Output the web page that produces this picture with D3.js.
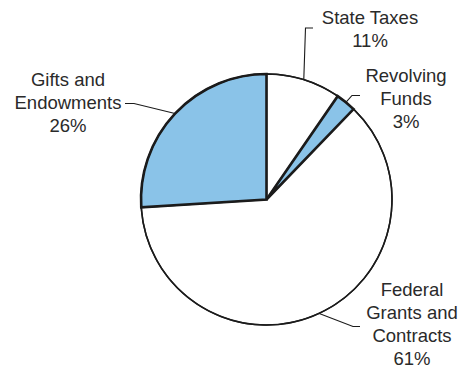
<!DOCTYPE html>
<html>
<head>
<meta charset="utf-8">
<script src="https://cdn.jsdelivr.net/npm/d3@7"></script>
<style>
  html, body { margin: 0; padding: 0; background: #ffffff; }
  svg { display: block; }
</style>
</head>
<body>
<script>
// ---- data ----
const categories = ["State Taxes", "Revolving Funds", "Federal Grants and Contracts", "Gifts and Endowments"];
const shares = [9.6, 2.6, 61.8, 26.0];          // slice sizes as drawn
const percentLabels = ["11%", "3%", "61%", "26%"]; // printed labels
const labelLines = [["State Taxes"], ["Revolving", "Funds"], ["Federal", "Grants and", "Contracts"], ["Gifts and", "Endowments"]];
const highlighted = [false, true, false, true];

// ---- layout ----
const W = 466, H = 369;
const cx = 266.5, cy = 199.5, R = 125.5;
const blue = "#8AC3E8";
const ink = "#1b1b1b";
const textColor = "#2a2a2a";

// label layout: text anchor centre x, first baseline, and leader elbow/end points
const labelLayout = [
  { x: 370, y: 24,  elbow: [305.5, 28], end: [313, 28] },
  { x: 406, y: 81.5, elbow: [352, 95.5], end: [360, 95.5] },
  { x: 412, y: 295.5, elbow: [353, 326.5], end: [360, 326.5] },
  { x: 68,  y: 86,  elbow: [134, 103.5], end: [125, 103.5] }
];
const lineH = 23;

const svg = d3.select("body").append("svg")
  .attr("width", W).attr("height", H);

const data = categories.map((c, i) => ({ name: c, value: shares[i], pct: percentLabels[i], lines: labelLines[i], hi: highlighted[i], layout: labelLayout[i] }));

const pie = d3.pie().sort(null).value(d => d.value);
const arcs = pie(data);
const arc = d3.arc().innerRadius(0).outerRadius(R);

const g = svg.append("g").attr("transform", `translate(${cx},${cy})`);

// white slices first, then blue slices on top (thicker outline)
const order = arcs.slice().sort((a, b) => (a.data.hi === b.data.hi ? 0 : a.data.hi ? 1 : -1));
g.selectAll("path.slice")
  .data(order)
  .join("path")
  .attr("class", "slice")
  .attr("d", arc)
  .attr("fill", d => d.data.hi ? blue : "#ffffff")
  .attr("stroke", ink)
  .attr("stroke-width", d => d.data.hi ? 2.6 : 1.5)
  .attr("stroke-linejoin", "miter");

// outer circle outline
g.append("circle").attr("r", R).attr("fill", "none").attr("stroke", ink).attr("stroke-width", 1.5);

// leader lines
arcs.forEach(a => {
  const mid = (a.startAngle + a.endAngle) / 2;
  const sx = cx + R * Math.sin(mid);
  const sy = cy - R * Math.cos(mid);
  const L = a.data.layout;
  svg.append("polyline")
    .attr("points", [[sx, sy], L.elbow, L.end].map(p => p.join(",")).join(" "))
    .attr("fill", "none")
    .attr("stroke", ink)
    .attr("stroke-width", 1.1);
});

// labels
arcs.forEach(a => {
  const L = a.data.layout;
  const lines = a.data.lines.concat([a.data.pct]);
  const t = svg.append("text")
    .attr("text-anchor", "middle")
    .attr("font-family", "Liberation Sans, Arial, Helvetica, sans-serif")
    .attr("font-size", 18.5)
    .attr("fill", textColor);
  lines.forEach((ln, i) => {
    t.append("tspan").attr("x", L.x).attr("y", L.y + i * lineH).text(ln);
  });
});
</script>
</body>
</html>
